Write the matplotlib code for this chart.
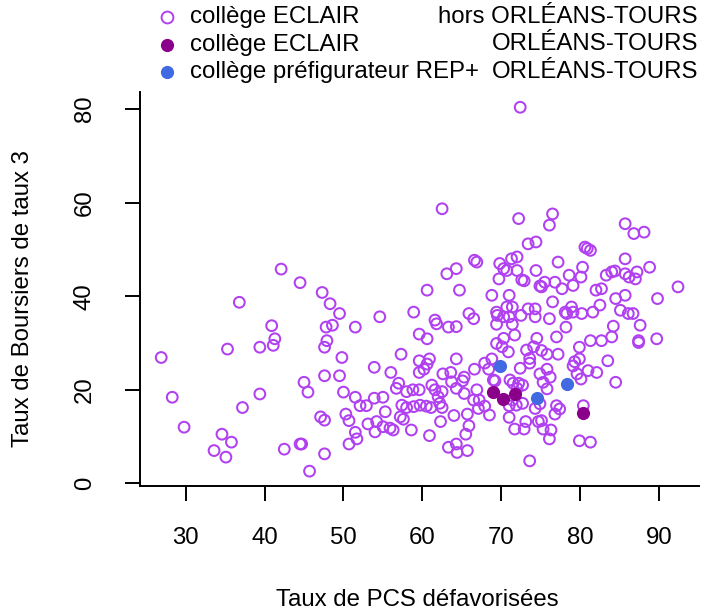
import matplotlib
matplotlib.use("Agg")
import matplotlib.pyplot as plt
from matplotlib.lines import Line2D

# collèges ECLAIR hors académie Orléans-Tours (cercles ouverts)
x_hors = [42.1, 44.5, 47.3, 36.8, 48.3, 49.5, 40.9, 47.8, 48.6, 51.5, 41.3, 41.1,
          35.3, 39.4, 47.9, 47.6, 26.9, 49.8, 47.6, 49.5, 45.0, 45.5, 28.3, 39.4,
          37.2, 50.0, 51.5, 52.1, 52.9, 29.8, 34.6, 35.8, 33.6, 35.1, 47.1, 47.6,
          50.3, 50.7, 42.5, 44.5, 44.7, 47.6, 45.7, 51.5, 51.7, 50.7, 53.1,
          72.4, 62.5, 72.2, 73.4, 74.4, 66.6, 66.9, 64.3, 63.1, 69.8, 71.3, 72.0,
          70.3, 70.7, 72.0, 74.4, 69.7, 72.6, 72.9, 74.9, 60.6, 64.7, 68.8, 71.0,
          54.6, 58.9, 61.6, 61.8, 65.9, 66.5, 63.3, 64.3, 69.4, 69.5, 70.7, 71.4,
          71.0, 70.3, 72.5, 73.4, 74.3, 69.4, 71.4,
          59.6, 60.6, 57.3, 53.9, 56.0, 59.6, 60.9, 60.6, 59.6, 60.2, 64.3, 62.6,
          63.6, 65.3, 65.1, 66.6, 67.9, 68.8, 68.4, 69.2, 69.4, 70.3, 70.1, 70.9,
          71.7, 72.4, 73.2, 74.1, 73.6, 74.5, 73.6, 57.0, 56.7, 58.0, 58.8, 59.6,
          61.2, 61.6, 62.5, 62.0, 63.7, 64.3, 65.3, 66.9, 67.2, 66.5, 67.1, 67.9,
          68.5, 69.0, 53.9, 55.0, 57.4, 58.0, 58.9, 59.7, 60.5, 61.1, 62.2, 62.5,
          55.3, 57.2, 57.6, 54.2, 55.0, 55.9, 56.3, 54.0, 58.6, 60.9, 62.3, 64.0,
          65.7, 65.9, 65.5, 63.3, 64.3, 65.7, 64.4, 71.0, 71.7, 72.9, 73.1, 73.6,
          71.0, 71.9, 72.7, 74.3, 71.5, 71.1, 72.2, 72.7, 72.0, 74.7, 71.4,
          77.0, 81.3, 82.7, 84.0, 87.4, 87.4, 89.7, 79.9, 77.2, 75.8, 75.1, 79.9,
          79.3, 79.1, 83.5, 81.0, 82.1, 79.6, 80.1, 84.5, 75.8, 76.2, 75.3, 75.8,
          74.9, 77.0, 77.4, 76.8, 80.4, 75.1, 75.3, 76.3, 76.1, 79.9, 81.3, 74.9,
          76.5, 76.1, 85.7, 86.8, 88.1, 80.6, 80.9, 81.3, 77.2, 85.7, 80.3, 88.8,
          78.6, 80.1, 75.5, 76.8, 75.1, 77.7, 79.1, 83.3, 84.0, 84.4, 85.7, 86.2,
          87.0, 87.2, 92.4, 82.0, 82.7, 84.5, 85.7, 89.8, 76.5, 74.3, 78.1, 78.3,
          78.9, 79.1, 80.2, 81.6, 82.5, 76.1, 85.1, 86.1, 86.7, 84.2, 87.6, 78.2]
y_hors = [45.8, 42.9, 40.8, 38.7, 38.4, 36.3, 33.7, 33.4, 33.8, 33.4, 30.9, 29.5,
          28.7, 29.1, 30.5, 29.1, 26.9, 26.9, 23.0, 23.0, 21.6, 19.5, 18.4, 19.1,
          16.2, 19.5, 18.4, 16.6, 16.6, 12.0, 10.5, 8.8, 7.0, 5.6, 14.2, 13.5,
          14.8, 13.4, 7.3, 8.4, 8.4, 6.3, 2.6, 10.9, 9.5, 8.4, 12.7,
          80.4, 58.7, 56.6, 51.2, 51.6, 47.7, 47.3, 45.9, 44.8, 47.0, 48.0, 48.4,
          45.9, 45.5, 45.5, 45.5, 43.7, 43.5, 43.3, 42.2, 41.3, 41.3, 40.2, 40.2,
          35.6, 36.6, 34.9, 34.1, 36.3, 35.2, 33.4, 33.5, 36.6, 35.9, 37.7, 37.7,
          35.6, 35.6, 35.9, 37.3, 37.3, 34.0, 34.0,
          31.9, 30.9, 27.6, 24.8, 23.7, 26.2, 26.6, 25.5, 23.7, 24.4, 26.6, 23.4,
          23.7, 22.7, 21.9, 24.4, 25.7, 26.6, 24.4, 21.9, 29.9, 31.0, 29.2, 28.1,
          31.7, 24.6, 28.5, 29.2, 26.7, 31.0, 25.7, 21.4, 20.3, 19.6, 20.0, 20.0,
          21.0, 20.0, 19.6, 18.5, 21.7, 20.3, 19.2, 20.0, 17.8, 17.8, 16.0, 16.5,
          14.6, 22.1, 18.2, 18.4, 16.7, 16.2, 16.4, 16.7, 16.5, 16.2, 17.1, 16.2,
          15.3, 14.2, 13.7, 13.2, 12.1, 11.8, 11.4, 11.0, 11.4, 10.2, 13.2, 14.5,
          14.8, 12.3, 10.5, 7.7, 8.4, 7.0, 6.6, 14.1, 11.6, 11.6, 13.2, 4.8,
          16.6, 16.7, 17.1, 16.0, 21.4, 22.1, 21.4, 21.0, 20.3, 13.2, 17.8,
          31.3, 30.5, 30.5, 31.3, 30.5, 30.1, 30.9, 29.1, 27.6, 27.6, 28.4, 26.6,
          26.0, 25.1, 26.2, 24.1, 23.7, 23.4, 22.3, 21.6, 24.4, 22.7, 21.6, 20.2,
          17.0, 16.6, 15.9, 14.8, 16.6, 13.4, 11.6, 11.4, 9.5, 9.1, 8.8, 23.4,
          57.6, 55.2, 55.5, 53.4, 53.7, 50.5, 50.2, 49.8, 47.3, 48.0, 46.2, 46.2,
          44.5, 44.1, 43.0, 43.0, 42.0, 41.6, 42.3, 44.5, 45.2, 45.4, 44.8, 44.1,
          43.7, 45.2, 42.0, 41.3, 41.6, 39.5, 40.2, 39.5, 38.8, 35.6, 36.6, 36.3,
          37.7, 36.6, 36.3, 36.6, 38.1, 35.2, 37.0, 36.3, 36.3, 33.6, 33.8, 33.4]

# collèges ECLAIR académie Orléans-Tours
x_eclair = [68.9, 70.2, 71.7, 80.4]
y_eclair = [19.5, 18.0, 19.0, 15.1]

# collèges préfigurateurs REP+ Orléans-Tours
x_rep = [69.8, 74.5, 78.3]
y_rep = [25.1, 18.2, 21.2]

x_ticks = [30, 40, 50, 60, 70, 80, 90]
y_ticks = [0, 20, 40, 60, 80]

legend_left = ["collège ECLAIR", "collège ECLAIR", "collège préfigurateur REP+"]
legend_right = ["hors ORLÉANS-TOURS", "ORLÉANS-TOURS", "ORLÉANS-TOURS"]

col_hors = "#B040F0"
col_eclair = "#8B008B"
col_rep = "#4169E1"

W, H = 702, 615
FS = 17.3
plt.rcParams['font.family'] = ['Liberation Sans', 'DejaVu Sans']
fig = plt.figure(figsize=(W / 100, H / 100), dpi=100)


def fx(px):
    return px / W


def fy(py):
    return 1 - py / H


ax = fig.add_axes([fx(140.3), fy(485.7), (699 - 140.3) / W, (485.7 - 91.7) / H])
ax.scatter(x_hors, y_hors, s=60, facecolors='none', edgecolors=col_hors, linewidths=1.45)
ax.scatter(x_eclair, y_eclair, s=90, color=col_eclair, linewidths=0)
ax.scatter(x_rep, y_rep, s=90, color=col_rep, linewidths=0)

ax.set_xlim(24.25, 95.06)
ax.set_ylim(-0.51, 83.73)
ax.set_xticks(x_ticks)
ax.set_yticks(y_ticks)
ax.set_xticklabels([str(t) for t in x_ticks])
ax.set_yticklabels([str(t) for t in y_ticks], rotation=90, va='center')
for side in ['top', 'right']:
    ax.spines[side].set_visible(False)
for side in ['left', 'bottom']:
    ax.spines[side].set_linewidth(1.4)
ax.tick_params(axis='both', length=11, width=1.4, labelsize=FS)
ax.tick_params(axis='x', pad=19)
ax.tick_params(axis='y', pad=21)

fig.text(fx(417), fy(600), "Taux de PCS défavorisées", ha='center', va='center', fontsize=FS)
fig.text(fx(23), fy(299), "Taux de Boursiers de taux 3", ha='center', va='center',
         rotation=90, fontsize=FS)

# légende en haut, hors du cadre
rows_y = [17, 44.5, 72]
markers = [dict(mfc='none', mec=col_hors, mew=1.4, ms=8.5),
           dict(mfc=col_eclair, mec=col_eclair, mew=0, ms=9.5),
           dict(mfc=col_rep, mec=col_rep, mew=0, ms=9.5)]
for yy, left, right, mk in zip(rows_y, legend_left, legend_right, markers):
    fig.add_artist(Line2D([fx(167)], [fy(yy)], transform=fig.transFigure,
                          marker='o', linestyle='none', **mk))
    fig.text(fx(190), fy(yy), left, ha='left', va='center', fontsize=FS)
    fig.text(fx(698), fy(yy), right, ha='right', va='center', fontsize=FS)

fig.savefig("out.png", dpi=100)
